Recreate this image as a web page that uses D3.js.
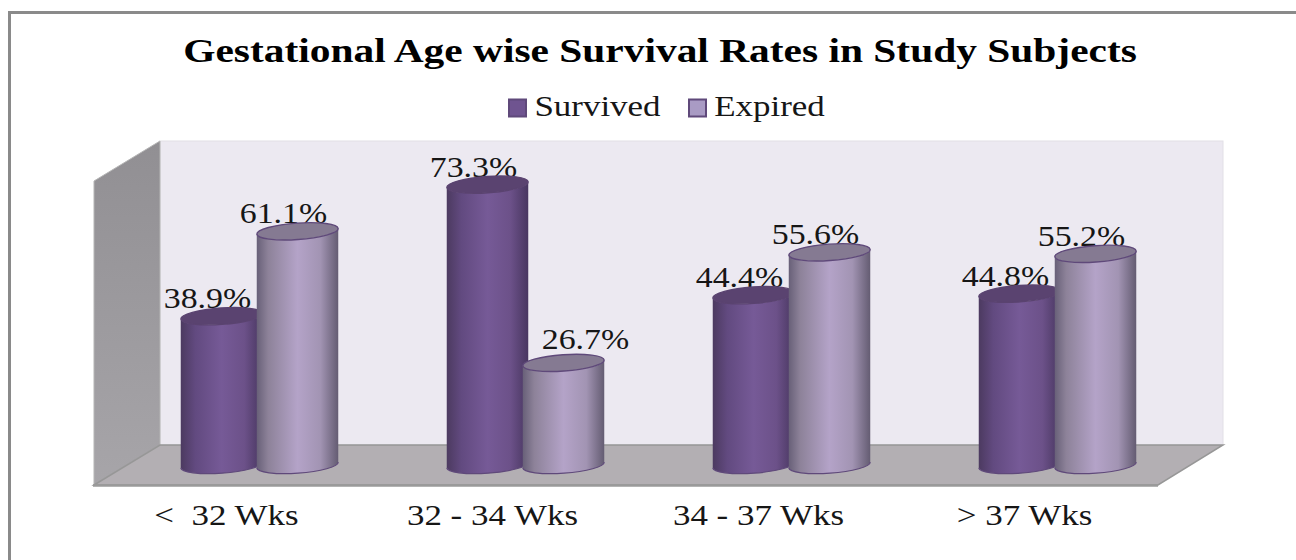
<!DOCTYPE html>
<html>
<head>
<meta charset="utf-8">
<script src="https://cdn.jsdelivr.net/npm/d3@7/dist/d3.min.js"></script>
<style>
html, body { margin: 0; padding: 0; background: #fff; overflow: hidden; }
svg { display: block; }
text { font-family: "Liberation Serif", "Times New Roman", serif; fill: #161616; white-space: pre; }
</style>
</head>
<body>
<svg id="chart" width="1296" height="560"></svg>
<script>
// Chart content
const titleText = "Gestational Age wise Survival Rates in Study Subjects";
const categories = ["<  32 Wks", "32 - 34 Wks", "34 - 37 Wks", "> 37 Wks"];
const seriesNames = ["Survived", "Expired"];
const survived = [38.9, 73.3, 44.4, 44.8];
const expired = [61.1, 26.7, 55.6, 55.2];

const W = 1296, H = 560;
const svg = d3.select("#chart");
const defs = svg.append("defs");

// Scales for the plot volume
const x = d3.scaleBand().domain(categories).range([126.5, 1190.5]);
const offset = d3.scalePoint().domain(seriesNames).range([-38, 38]);
const y = d3.scaleLinear().domain([0, 80]).range([465, 159]);
const barW = 81.5, rx = barW / 2, ry = 8.2;
const tiltDeg = -4;
const tiltDy = rx * Math.sin(-tiltDeg * Math.PI / 180);

const palette = {
  Survived: {
    stops: [[0, "#4c3a60"], [0.18, "#624a80"], [0.5, "#765a97"], [0.78, "#6c5189"], [1, "#483660"]],
    cap: "#5a4370", edge: "#5f497a", capEdge: "#5a4370", swatch: "#6f5490"
  },
  Expired: {
    stops: [[0, "#686078"], [0.14, "#8d8299"], [0.5, "#b4a3c8"], [0.78, "#a294b3"], [1, "#645c72"]],
    cap: "#857a92", edge: "#5f497a", capEdge: "#5f497a", swatch: "#a99bc4"
  }
};

// Horizontal shading that gives the bars their cylinder look
seriesNames.forEach(name => {
  const g = defs.append("linearGradient").attr("id", "cyl-" + name)
    .attr("x1", 0).attr("x2", 1).attr("y1", 0).attr("y2", 0);
  palette[name].stops.forEach(s => g.append("stop").attr("offset", s[0]).attr("stop-color", s[1]));
});
const wallGrad = defs.append("linearGradient").attr("id", "sideWall")
  .attr("x1", 0).attr("x2", 0).attr("y1", 0).attr("y2", 1);
wallGrad.append("stop").attr("offset", 0).attr("stop-color", "#918f93");
wallGrad.append("stop").attr("offset", 1).attr("stop-color", "#a7a5a9");

// Outer frame: only the top and left rules are in view
svg.append("path").attr("d", `M9.5,${H} V12.5 H${W}`)
  .attr("fill", "none").attr("stroke", "#8a8a8a").attr("stroke-width", 3);

// Stretched serif text helper
function label(sel, cx, baseline, size, weight, txt, sx) {
  return sel.append("text")
    .attr("transform", `translate(${cx},${baseline}) scale(${sx},1)`)
    .attr("text-anchor", "middle")
    .attr("font-size", size)
    .attr("font-weight", weight)
    .text(txt);
}

// Title
label(svg, 660, 62, 33, "bold", titleText, 1.255).style("fill", "#000");

// Legend
const legendSpots = [{ box: 509, text: 597.5 }, { box: 689, text: 769.5 }];
seriesNames.forEach((name, i) => {
  svg.append("rect")
    .attr("x", legendSpots[i].box).attr("y", 99.5).attr("width", 17).attr("height", 17)
    .attr("fill", palette[name].swatch).attr("stroke", palette[name].edge).attr("stroke-width", 2);
  label(svg, legendSpots[i].text, 116, 30, "normal", name, 1.165);
});

// Walls and floor of the plot volume
const depth = { dx: 66, dy: 40 };
const backLeft = 160, backRight = 1223, backTop = 141, backBottom = 445;
svg.append("rect").attr("x", backLeft).attr("y", backTop)
  .attr("width", backRight - backLeft).attr("height", backBottom - backTop)
  .attr("fill", "#ece9f1").attr("stroke", "#e2dfe6").attr("stroke-width", 1);
svg.append("path")
  .attr("d", `M${backLeft - depth.dx},${backTop + depth.dy} L${backLeft},${backTop} V${backBottom} L${backLeft - depth.dx},${backBottom + depth.dy} Z`)
  .attr("fill", "url(#sideWall)").attr("stroke", "#b5b5b5").attr("stroke-width", 1);
svg.append("path")
  .attr("d", `M${backLeft - depth.dx},${backBottom + depth.dy} L${backLeft},${backBottom} H${backRight} L${backRight - depth.dx + 1},${backBottom + depth.dy} Z`)
  .attr("fill", "#b3afb3").attr("stroke", "#979797").attr("stroke-width", 1.5);
svg.append("line")
  .attr("x1", backLeft - depth.dx - 1).attr("x2", backRight - depth.dx + 1)
  .attr("y1", backBottom + depth.dy + 0.5).attr("y2", backBottom + depth.dy + 0.5)
  .attr("stroke", "#9a9a9a").attr("stroke-width", 2.5);

// Flattened records for drawing
const records = categories.flatMap((c, i) => [
  { category: c, series: "Survived", value: survived[i] },
  { category: c, series: "Expired", value: expired[i] }
]);
const centre = d => x(d.category) + x.bandwidth() / 2 + offset(d.series);

// Value labels sit behind the caps, which clip their lower edge slightly
const pct = d3.format(".1f");
const labelNudge = { "26.7": { dx: 36, dy: -6 } };
records.forEach(d => {
  const n = labelNudge[pct(d.value)] || { dx: 0, dy: 0 };
  label(svg, centre(d) - 14 + n.dx, y(d.value) - 8 + n.dy, 30, "normal", pct(d.value) + "%", 1.13);
});

// Cylinders, with ends tilted slightly as if seen from the left
const bars = svg.append("g").selectAll("g").data(records).join("g");
bars.append("path")
  .attr("d", d => {
    const l = centre(d) - rx, r = centre(d) + rx, t = y(d.value), b = y(0);
    return `M${l},${t + tiltDy} A${rx},${ry} ${tiltDeg} 0 0 ${r},${t - tiltDy} V${b - tiltDy} A${rx},${ry} ${tiltDeg} 0 1 ${l},${b + tiltDy} Z`;
  })
  .attr("fill", d => `url(#cyl-${d.series})`);
bars.append("path")
  .attr("d", d => {
    const l = centre(d) - rx, r = centre(d) + rx, b = y(0);
    return `M${r},${b - tiltDy} A${rx},${ry} ${tiltDeg} 0 1 ${l},${b + tiltDy}`;
  })
  .attr("fill", "none")
  .attr("stroke", d => palette[d.series].edge).attr("stroke-width", 1.2);
bars.append("ellipse")
  .attr("transform", d => `translate(${centre(d)},${y(d.value)}) rotate(${tiltDeg})`)
  .attr("rx", rx).attr("ry", ry)
  .attr("fill", d => palette[d.series].cap)
  .attr("stroke", d => palette[d.series].capEdge).attr("stroke-width", 1.4);

// Category axis, set forward of the back wall
const axis = d3.axisBottom(x).tickSize(0).tickPadding(0);
const axisG = svg.append("g").attr("transform", "translate(-33,525)").call(axis);
axisG.select(".domain").remove();
axisG.selectAll("text")
  .attr("y", 0).attr("dy", 0)
  .attr("font-size", 29)
  .style("fill", "#161616")
  .attr("transform", "scale(1.205,1)");
axisG.attr("font-family", null);
</script>
</body>
</html>
